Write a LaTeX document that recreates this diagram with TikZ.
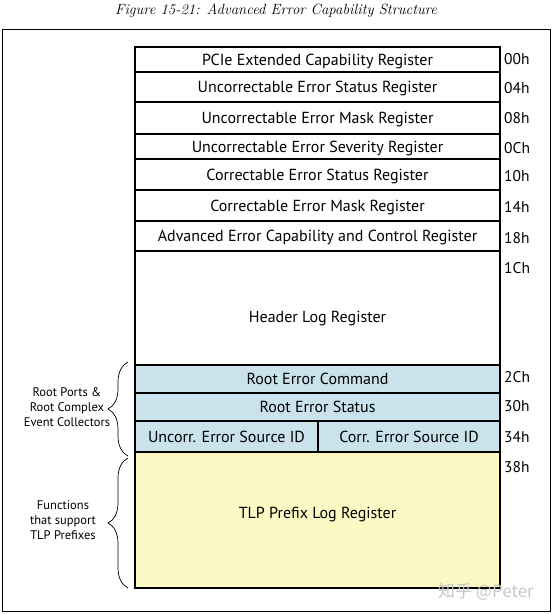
\documentclass[tikz,border=0pt]{standalone}
\usepackage{fontspec}
\setsansfont{PT Sans}
\newfontfamily\cjk{Noto Sans CJK SC}
\usetikzlibrary{positioning,decorations.pathreplacing}
\definecolor{rootblue}{HTML}{C9E2EC}
\definecolor{prefixyellow}{HTML}{FCF9C4}

\tikzset{
  reg/.style={draw, line width=1.6pt, outer sep=0pt, inner sep=0pt, minimum width=365pt,
    text depth=0pt, font=\sffamily\fontsize{16}{18}\selectfont},
  regtext/.style={inner sep=0pt, text depth=0pt, font=\sffamily\fontsize{16}{18}\selectfont},
  off/.style={anchor=west, inner sep=0pt, xshift=4pt, font=\sffamily\fontsize{15.5}{18}\selectfont},
  side/.style={align=center, inner sep=0pt, font=\sffamily\fontsize{12.5}{15}\selectfont},
  grp/.style={decorate, decoration={brace, amplitude=20pt}, line width=0.7pt}
}

\begin{document}
\begin{tikzpicture}[x=1pt, y=-1pt]
  \useasboundingbox (0,0) rectangle (554,614);

  % Title and frame
  \node[font=\itshape\fontsize{14.8}{17}\selectfont] (title) at (276,11)
    {Figure 15-21: Advanced Error Capability Structure};
  \draw[line width=1pt] (2,29) rectangle (550,611);

  % Register stack
  \node[reg, minimum height=25pt, anchor=north west] (r1) at (135,47) {PCIe Extended Capability Register};
  \node[reg, minimum height=30pt, below=0pt of r1] (r2) {Uncorrectable Error Status Register};
  \node[reg, minimum height=32pt, below=0pt of r2] (r3) {Uncorrectable Error Mask Register};
  \node[reg, minimum height=25pt, below=0pt of r3] (r4) {Uncorrectable Error Severity Register};
  \node[reg, minimum height=31pt, below=0pt of r4] (r5) {Correctable Error Status Register};
  \node[reg, minimum height=31pt, below=0pt of r5] (r6) {Correctable Error Mask Register};
  \node[reg, minimum height=30pt, below=0pt of r6] (r7) {Advanced Error Capability and Control Register};
  \node[reg, minimum height=114pt, below=0pt of r7] (r8) {};
  \node[regtext] (hdr) at ([yshift=-9pt]r8.center) {Header Log Register};

  % Root port / RCEC part
  \node[reg, fill=rootblue, minimum height=28pt, below=0pt of r8] (r9) {Root Error Command};
  \node[reg, fill=rootblue, minimum height=28pt, below=0pt of r9] (r10) {Root Error Status};
  \node[reg, fill=rootblue, minimum height=31pt, minimum width=183pt, anchor=north west]
    (r11a) at (r10.south west) {Uncorr. Error Source ID};
  \node[reg, fill=rootblue, minimum height=31pt, minimum width=182pt, right=0pt of r11a]
    (r11b) {Corr. Error Source ID};

  % TLP prefix part
  \node[reg, fill=prefixyellow, minimum height=136pt, anchor=north west] (r12) at (r11a.south west) {};
  \node[regtext] (tlp) at ([yshift=7pt]r12.center) {TLP Prefix Log Register};

  % Offsets
  \node[off] (o00) at (r1.east) {00h};
  \node[off] (o04) at ([yshift=-1pt]r2.east) {04h};
  \node[off] (o08) at (r3.east) {08h};
  \node[off] (o0C) at ([yshift=-2pt]r4.east) {0Ch};
  \node[off] (o10) at ([yshift=-2pt]r5.east) {10h};
  \node[off] (o14) at ([yshift=-1pt]r6.east) {14h};
  \node[off] (o18) at ([yshift=-2pt]r7.east) {18h};
  \node[off] (o1C) at ([yshift=-17pt]r8.north east) {1Ch};
  \node[off] (o2C) at ([yshift=2pt]r9.east) {2Ch};
  \node[off] (o30) at ([yshift=1pt]r10.east) {30h};
  \node[off] (o34) at ([yshift=-1pt]r11b.east) {34h};
  \node[off] (o38) at ([yshift=-15pt]r12.north east) {38h};

  % Side notes with braces
  \coordinate (b1top) at (128,362);
  \coordinate (b1bot) at (128,456);
  \coordinate (b2top) at (128,458);
  \coordinate (b2bot) at (128,588);
  \draw[grp] (b1bot) -- (b1top);
  \draw[grp] (b2bot) -- (b2top);
  \node[side] (rootnote) at (67,407) {Root Ports \&\\Root Complex\\Event Collectors};
  \node[side] (tlpnote) at (63,520) {Functions\\that support\\TLP Prefixes};

  % Watermark
  \node[text=gray!45, font=\cjk\fontsize{17}{19}\selectfont] (mark) at (486,592) {知乎 @Peter};
\end{tikzpicture}
\end{document}
